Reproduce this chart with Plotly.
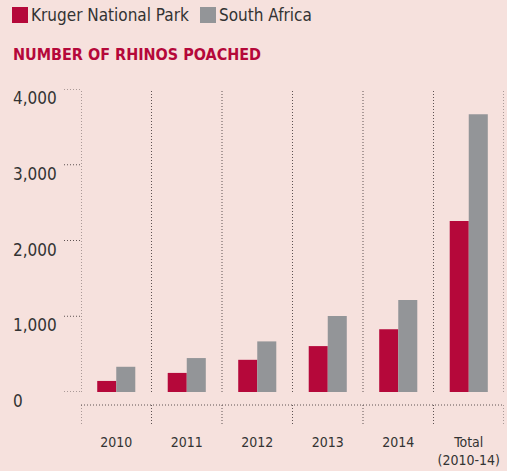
import plotly.graph_objects as go

categories = ["2010", "2011", "2012", "2013", "2014", "Total<br>(2010-14)"]
kruger = [146, 252, 425, 606, 827, 2256]
south_africa = [333, 448, 668, 1004, 1215, 3668]
series_names = ["Kruger National Park", "South Africa"]
y_ticks = [0, 1000, 2000, 3000, 4000]
y_tick_labels = ["0", "1,000", "2,000", "3,000", "4,000"]

RED = "#b5083a"
GRAY = "#939598"
BG = "#f6e1dd"
TXT = "#333333"
DOT = "#5e5252"
DASH = "1px,2px"
FONT = "DejaVu Sans Condensed, Liberation Sans Narrow, Roboto, sans-serif"

W, H = 507, 471
L, R, T, B = 81, 3, 89, 79
pw, ph = W - L - R, H - T - B

def px(x):
    return (x - L) / pw

def py(y):
    return (H - B - y) / ph

fig = go.Figure()
fig.add_trace(go.Bar(x=categories, y=kruger, name=series_names[0], marker_color=RED, marker_line_width=0))
fig.add_trace(go.Bar(x=categories, y=south_africa, name=series_names[1], marker_color=GRAY, marker_line_width=0))

shapes = []
n = len(categories)
for i in range(n + 1):
    shapes.append(dict(type="line", xref="x", yref="y", x0=i - 0.5, x1=i - 0.5, y0=0, y1=y_ticks[-1],
                       line=dict(color=DOT, width=1, dash=DASH)))
    shapes.append(dict(type="line", xref="x", yref="paper", x0=i - 0.5, x1=i - 0.5, y0=py(405), y1=py(424),
                       line=dict(color=DOT, width=1, dash=DASH)))
shapes.append(dict(type="line", xref="paper", yref="paper", x0=0, x1=1, y0=py(405), y1=py(405),
                   line=dict(color=DOT, width=1, dash=DASH)))
for v in y_ticks:
    shapes.append(dict(type="line", xref="paper", yref="y", x0=px(64), x1=0, y0=v, y1=v,
                       line=dict(color=DOT, width=1, dash=DASH)))

annotations = []
for v, lab in zip(y_ticks, y_tick_labels):
    annotations.append(dict(xref="paper", yref="y", x=px(11), y=v, yshift=-9, text=lab, showarrow=False,
                            xanchor="left", yanchor="middle", font=dict(family=FONT, size=17, color=TXT)))

leg = [(12, series_names[0], RED), (200, series_names[1], GRAY)]
for x0, name, col in leg:
    shapes.append(dict(type="rect", xref="paper", yref="paper", x0=px(x0), x1=px(x0 + 16), y0=py(23), y1=py(7),
                       fillcolor=col, line_width=0))
    annotations.append(dict(xref="paper", yref="paper", x=px(x0 + 17), y=py(15), text=name, showarrow=False,
                            xanchor="left", yanchor="middle", font=dict(family=FONT, size=17, color=TXT)))

annotations.append(dict(xref="paper", yref="paper", x=px(11), y=py(55), text="<b>NUMBER OF RHINOS POACHED</b>",
                        showarrow=False, xanchor="left", yanchor="middle",
                        font=dict(family=FONT, size=16, color=RED)))

fig.update_layout(
    width=W, height=H,
    margin=dict(l=L, r=R, t=T, b=B),
    paper_bgcolor=BG, plot_bgcolor=BG,
    barmode="group", bargap=0.46, bargroupgap=0,
    showlegend=False,
    shapes=shapes, annotations=annotations,
    xaxis=dict(showgrid=False, showline=False, zeroline=False, ticks="",
               tickfont=dict(family=FONT, size=14, color=TXT), ticklabelstandoff=40,
               range=[-0.5, n - 0.5]),
    yaxis=dict(range=[0, y_ticks[-1]], showgrid=False, showline=False, zeroline=False,
               showticklabels=False, tickvals=y_ticks),
)

fig.write_html("out.html", config={"displayModeBar": False},
               post_script="document.body.style.margin='0';document.body.style.overflow='hidden';")
